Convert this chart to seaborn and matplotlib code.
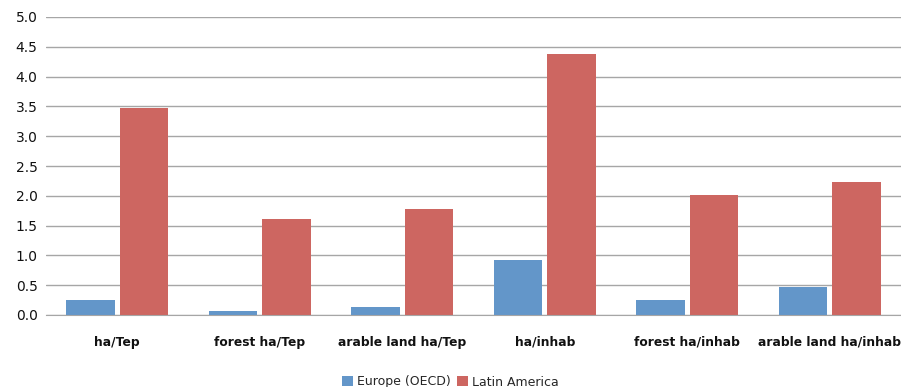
import pandas as pd
import matplotlib
matplotlib.use("Agg")
import matplotlib.pyplot as plt
import seaborn as sns

categories = ["ha/Tep", "forest ha/Tep", "arable land ha/Tep",
              "ha/inhab", "forest ha/inhab", "arable land ha/inhab"]
europe = [0.25, 0.07, 0.13, 0.92, 0.25, 0.47]
latin_america = [3.47, 1.61, 1.78, 4.38, 2.01, 2.23]
series = ["Europe (OECD)", "Latin America"]

df = pd.DataFrame({
    "category": categories * 2,
    "value": europe + latin_america,
    "region": [series[0]] * len(categories) + [series[1]] * len(categories),
})

sns.set_style("white")
fig = plt.figure(figsize=(9.01, 3.87), dpi=100)
ax = fig.add_axes([46 / 901, 1 - 315 / 387, 1 - 46 / 901, 298 / 387])

sns.barplot(data=df, x="category", y="value", hue="region", order=categories,
            palette=["#6396C9", "#CD6661"], width=0.75, gap=0.1,
            saturation=1, linewidth=0, ax=ax, legend=True)

ax.set_ylim(0, 5)
ax.set_yticks([i * 0.5 for i in range(11)])
ax.set_yticklabels([f"{i * 0.5:.1f}" for i in range(11)], fontsize=10, color="#111111")
ax.set_xlim(-0.5, len(categories) - 0.5)
ax.yaxis.grid(True, color="#a6a6a6", linewidth=1)
ax.set_axisbelow(True)
for side in ["top", "right", "left"]:
    ax.spines[side].set_visible(False)
ax.spines["bottom"].set_color("#a6a6a6")
ax.tick_params(axis="both", length=0)
ax.tick_params(axis="y", pad=6)
ax.tick_params(axis="x", pad=15)
for lbl in ax.get_xticklabels():
    lbl.set_fontweight("bold")
    lbl.set_fontsize(8.8)
    lbl.set_color("#111111")
ax.set_xlabel("")
ax.set_ylabel("")

ax.legend_.remove()
handles, labels = ax.get_legend_handles_labels()
fig.legend(handles, labels, loc="center", bbox_to_anchor=(0.5, 1 - 382 / 387),
           ncol=2, frameon=False, fontsize=9, handlelength=0.9, handleheight=0.9,
           columnspacing=0.5, handletextpad=0.3)

fig.savefig("out.png", dpi=100)
